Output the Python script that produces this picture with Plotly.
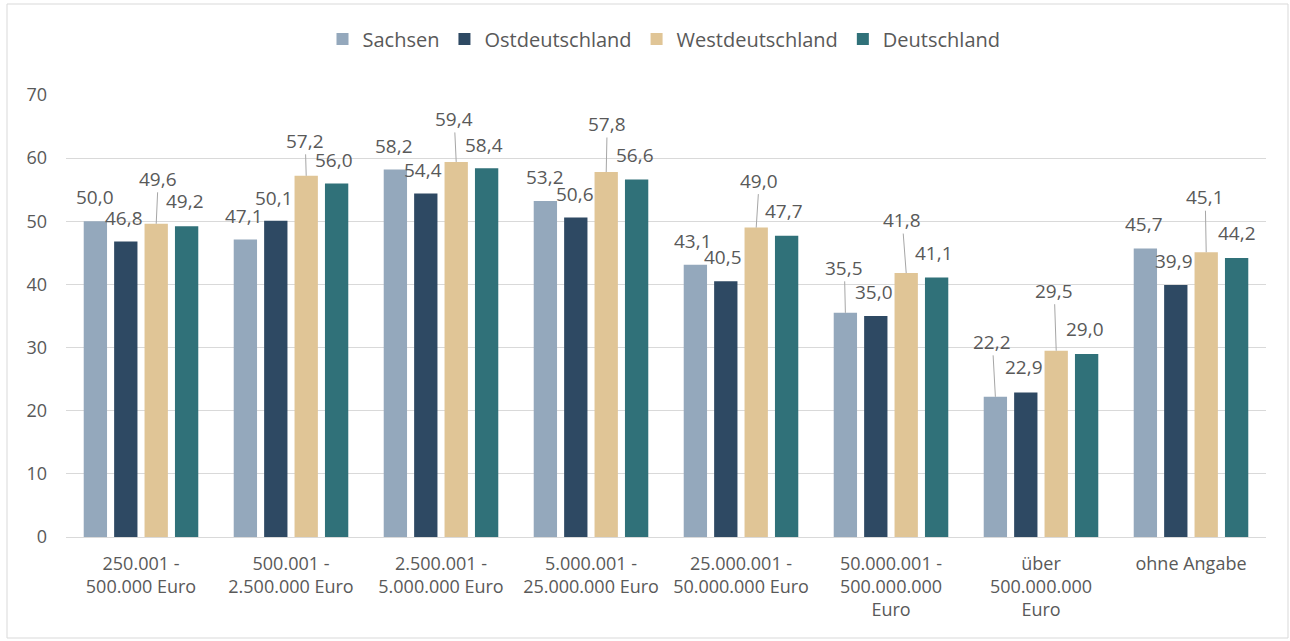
import plotly.graph_objects as go

categories = [
    "250.001 -<br>500.000 Euro",
    "500.001 -<br>2.500.000 Euro",
    "2.500.001 -<br>5.000.000 Euro",
    "5.000.001 -<br>25.000.000 Euro",
    "25.000.001 -<br>50.000.000 Euro",
    "50.000.001 -<br>500.000.000<br>Euro",
    "über<br>500.000.000<br>Euro",
    "ohne Angabe",
]
series_names = ["Sachsen", "Ostdeutschland", "Westdeutschland", "Deutschland"]
sachsen = [50.0, 47.1, 58.2, 53.2, 43.1, 35.5, 22.2, 45.7]
ostdeutschland = [46.8, 50.1, 54.4, 50.6, 40.5, 35.0, 22.9, 39.9]
westdeutschland = [49.6, 57.2, 59.4, 57.8, 49.0, 41.8, 29.5, 45.1]
deutschland = [49.2, 56.0, 58.4, 56.6, 47.7, 41.1, 29.0, 44.2]
series_values = [sachsen, ostdeutschland, westdeutschland, deutschland]
y_ticks = [0, 10, 20, 30, 40, 50, 60, 70]

# styles
colors = ["#94A8BC", "#2E4963", "#E0C596", "#307179"]
FONT = "Open Sans"
TXT = "#595959"
GRID = "#D9D9D9"
BARGAP = 0.189
BARGROUPGAP = 0.233
# label offsets in pixels (label centre relative to bar top centre), leader flag
label_dx = [
    [0, -1, -1, 0, -2, -1, -3, -1],
    [-2, -2, -3, -1, -3, -2, -2, -2],
    [2, -1, -2, 1, 3, -4, -2, -1],
    [-2, -3, -3, -2, -3, -3, -2, 0],
]
label_dy = [
    [-24, -24, -24, -24, -24, -45, -55, -24],
    [-23, -23, -24, -24, -24, -24, -25, -24],
    [-45, -35, -43, -48, -47, -53, -60, -55],
    [-25, -23, -23, -25, -25, -24, -25, -25],
]
leader = [
    [False, False, False, False, False, True, True, False],
    [False] * 8,
    [True] * 8,
    [False] * 8,
]

fig = go.Figure()
for name, vals, col in zip(series_names, series_values, colors):
    fig.add_trace(go.Bar(name=name, x=categories, y=vals, marker_color=col,
                         marker_line_width=0))

slot = (1 - BARGAP) / len(series_names)
annotations = []
for s, vals in enumerate(series_values):
    for i, v in enumerate(vals):
        xpos = i + (s - (len(series_names) - 1) / 2) * slot
        annotations.append(dict(
            x=xpos, y=v, xref="x", yref="y",
            text=f"{v:.1f}".replace(".", ","),
            showarrow=True, arrowhead=0, arrowwidth=1, standoff=0,
            arrowcolor="#A6A6A6" if leader[s][i] else "rgba(0,0,0,0)",
            ax=label_dx[s][i], ay=label_dy[s][i],
            font=dict(family=FONT, size=19, color=TXT),
            borderpad=0,
        ))

L, R, T, B = 66, 24, 95, 104
W, H = 1290, 641
pw, ph = W - L - R, H - T - B

fig.update_layout(
    width=W, height=H,
    margin=dict(l=L, r=R, t=T, b=B),
    paper_bgcolor="white", plot_bgcolor="white",
    barmode="group", bargap=BARGAP, bargroupgap=BARGROUPGAP,
    font=dict(family=FONT, size=18, color=TXT),
    showlegend=True,
    legend=dict(orientation="h", x=(664 - L) / pw, xanchor="center",
                y=(ph + T - 39) / ph, yanchor="middle",
                font=dict(family=FONT, size=20, color=TXT),
                itemwidth=30, traceorder="normal"),
    xaxis=dict(type="category", showgrid=False, showline=True, linecolor=GRID,
               linewidth=1, ticks="", tickfont=dict(family=FONT, size=18, color=TXT),
               ticklabelstandoff=10, range=[-0.5, 7.5]),
    yaxis=dict(range=[0, 70], tickvals=y_ticks, showgrid=True, gridcolor=GRID,
               gridwidth=1, zeroline=False, showline=False, ticks="",
               tickfont=dict(family=FONT, size=18, color=TXT),
               ticklabelstandoff=18),
    annotations=annotations,
    shapes=[dict(type="rect", xref="paper", yref="paper",
                 x0=(7 - L) / pw, x1=(1288 - L) / pw,
                 y0=(ph + T - 638) / ph, y1=(ph + T - 4) / ph,
                 line=dict(color=GRID, width=1), fillcolor="rgba(0,0,0,0)",
                 layer="below")],
)

fig.write_html("out.html", config={"displayModeBar": False},
               post_script="document.body.style.margin='0';document.body.style.overflow='hidden';")
